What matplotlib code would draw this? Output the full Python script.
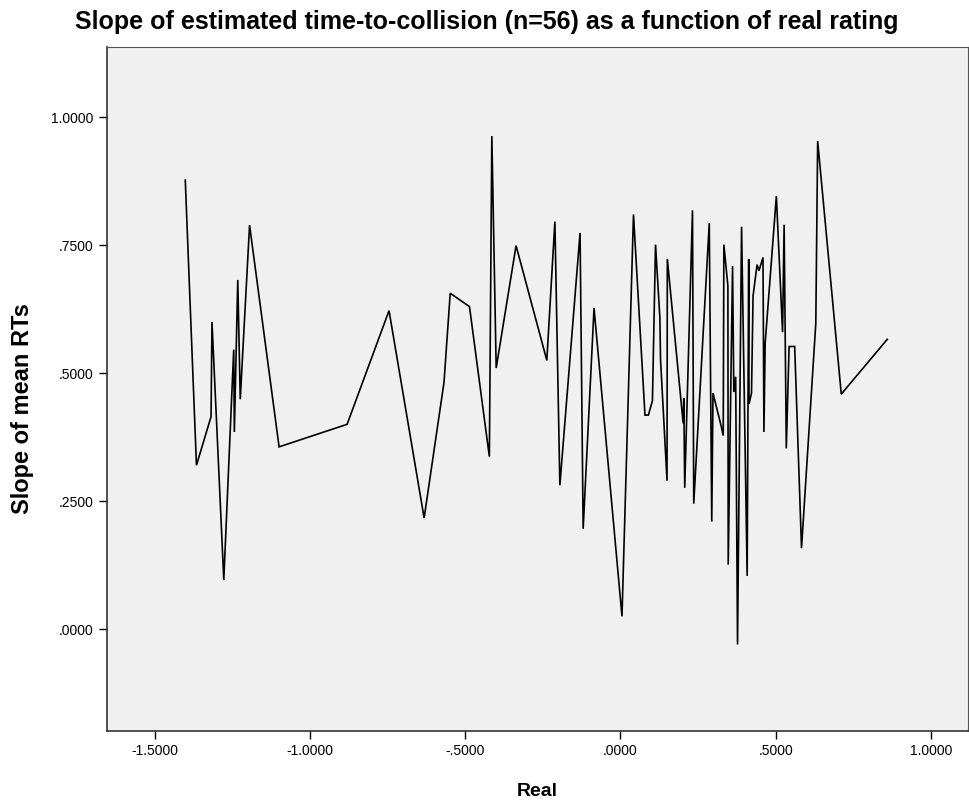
import matplotlib
matplotlib.use("Agg")
import matplotlib.pyplot as plt
from matplotlib.ticker import FuncFormatter

plt.rcParams['font.family'] = ['Liberation Sans', 'DejaVu Sans']

real = [-1.401, -1.365, -1.318, -1.315, -1.277, -1.245, -1.243, -1.232, -1.224, -1.194,
        -1.099, -0.880, -0.745, -0.632, -0.568, -0.548, -0.486, -0.422, -0.414, -0.400,
        -0.336, -0.237, -0.211, -0.195, -0.130, -0.120, -0.085, 0.005, 0.042, 0.079,
        0.090, 0.103, 0.113, 0.127, 0.129, 0.150, 0.151, 0.202, 0.204, 0.207,
        0.232, 0.236, 0.286, 0.294, 0.298, 0.325, 0.331, 0.333, 0.346, 0.347,
        0.361, 0.365, 0.371, 0.377, 0.390, 0.408, 0.413, 0.414, 0.422, 0.427,
        0.440, 0.446, 0.459, 0.462, 0.466, 0.502, 0.522, 0.527, 0.534, 0.543,
        0.561, 0.583, 0.629, 0.635, 0.711, 0.859]
slope = [0.877, 0.320, 0.415, 0.600, 0.096, 0.546, 0.385, 0.682, 0.449, 0.789,
         0.356, 0.400, 0.622, 0.217, 0.482, 0.656, 0.630, 0.337, 0.963, 0.510,
         0.749, 0.525, 0.796, 0.281, 0.774, 0.196, 0.627, 0.025, 0.810, 0.418,
         0.418, 0.446, 0.751, 0.608, 0.528, 0.290, 0.723, 0.402, 0.451, 0.276,
         0.818, 0.245, 0.793, 0.210, 0.461, 0.395, 0.378, 0.751, 0.670, 0.126,
         0.709, 0.463, 0.493, -0.030, 0.786, 0.104, 0.723, 0.440, 0.461, 0.651,
         0.712, 0.700, 0.726, 0.385, 0.559, 0.846, 0.580, 0.790, 0.353, 0.552,
         0.552, 0.158, 0.597, 0.953, 0.459, 0.566]

x_ticks = [-1.5, -1.0, -0.5, 0.0, 0.5, 1.0]
y_ticks = [0.0, 0.25, 0.5, 0.75, 1.0]

title = "Slope of estimated time-to-collision (n=56) as a function of real rating"
xlabel = "Real"
ylabel = "Slope of mean RTs"


def spss_fmt(v, pos=None):
    s = "%.4f" % v
    if s.startswith("0."):
        s = s[1:]
    elif s.startswith("-0."):
        s = "-" + s[2:]
    if s == "-.0000":
        s = ".0000"
    return s


fig = plt.figure(figsize=(9.69, 8.02), dpi=100)
ax = fig.add_axes([107 / 969, 71 / 802, 861 / 969, 684 / 802])
ax.set_facecolor("#F0F0F0")
ax.plot(real, slope, color="black", linewidth=1.2, solid_joinstyle="miter")

ax.set_xlim(-1.653, 1.119)
ax.set_ylim(-0.199, 1.137)
ax.set_xticks(x_ticks)
ax.set_yticks(y_ticks)
ax.xaxis.set_major_formatter(FuncFormatter(spss_fmt))
ax.yaxis.set_major_formatter(FuncFormatter(spss_fmt))
ax.tick_params(direction="out", length=6, width=1, labelsize=10, colors="black")

for side in ["top", "right"]:
    ax.spines[side].set_linewidth(0.8)
    ax.spines[side].set_color("#555555")
for side in ["left", "bottom"]:
    ax.spines[side].set_linewidth(1.2)
    ax.spines[side].set_color("#333333")

ax.set_xlabel(xlabel, fontsize=14, fontweight="bold", labelpad=18)
ax.set_ylabel(ylabel, fontsize=17, fontweight="bold")
ax.yaxis.set_label_coords(-0.085, 0.471)
fig.text(487 / 969, 1 - 22 / 802, title, ha="center", va="center", fontsize=18, fontweight="bold")

fig.savefig("out.png", dpi=100, facecolor="white")
